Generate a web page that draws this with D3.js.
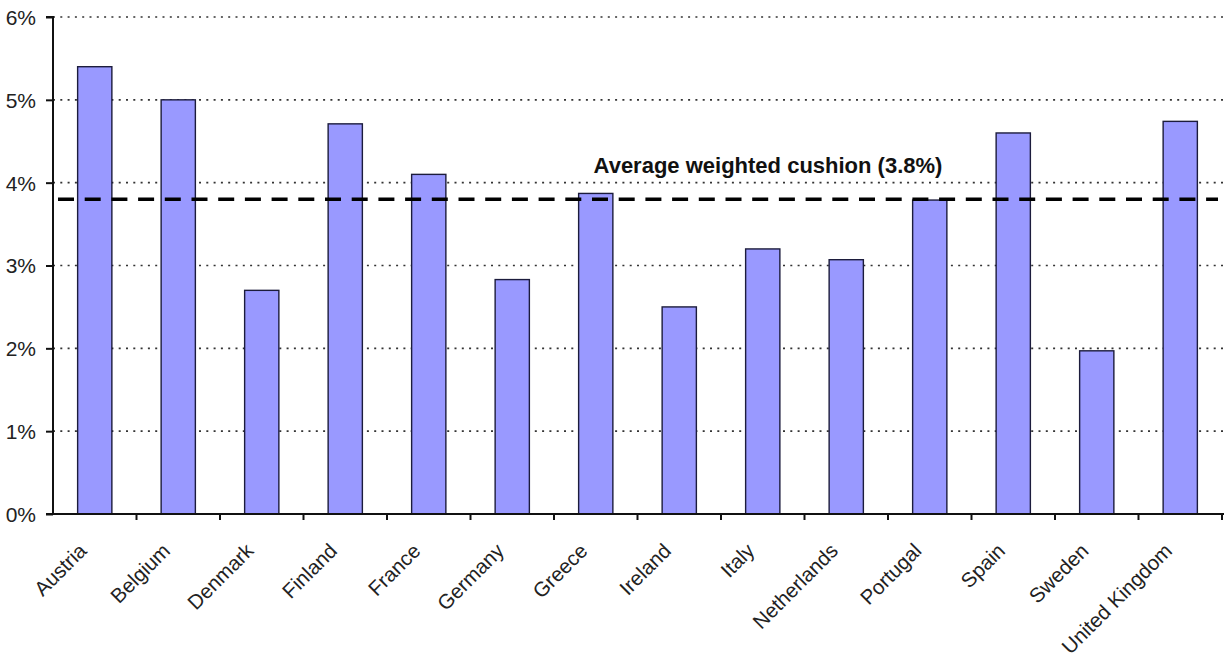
<!DOCTYPE html>
<html><head><meta charset="utf-8">
<script src="https://cdn.jsdelivr.net/npm/d3@7"></script>
<style>body{margin:0;background:#fff;} text{font-family:"Liberation Sans",Arial,sans-serif;}</style>
</head><body><svg id="c" width="1226" height="662"></svg>
<script>
const countries = ["Austria","Belgium","Denmark","Finland","France","Germany","Greece","Ireland","Italy","Netherlands","Portugal","Spain","Sweden","United Kingdom"];
const cushion = [5.4,5.0,2.7,4.71,4.1,2.83,3.87,2.5,3.2,3.07,3.79,4.6,1.97,4.74];
const average = 3.8;
const yTicks = [0,1,2,3,4,5,6];
const annotation = "Average weighted cushion (3.8%)";

const svg = d3.select("#c");
const mL = 53, mR = 1222, mT = 17, mB = 514;
const x = d3.scaleBand().domain(countries).range([mL, mR]).paddingInner(0.59).paddingOuter(0.295);
const xb = d3.scaleBand().domain(countries).range([mL, mR]);
const y = d3.scaleLinear().domain([0,6]).range([mB, mT]);

// gridlines
svg.append("g").selectAll("line").data(yTicks.filter(d=>d>0)).join("line")
  .attr("x1", mL).attr("x2", mR+4).attr("y1", d=>y(d)).attr("y2", d=>y(d))
  .attr("stroke","#333").attr("stroke-width",1.6).attr("stroke-dasharray","2,5.3");

// bars
svg.append("g").selectAll("rect").data(countries).join("rect")
  .attr("x", d=>x(d)).attr("width", x.bandwidth())
  .attr("y", (d,i)=>y(cushion[i])).attr("height", (d,i)=>y(0)-y(cushion[i]))
  .attr("fill","#9999ff").attr("stroke","#1c1c3c").attr("stroke-width",1.4);

// average line
svg.append("line").attr("x1", mL+5).attr("x2", mR-4).attr("y1", y(average)).attr("y2", y(average))
  .attr("stroke","#000").attr("stroke-width",3.6).attr("stroke-dasharray","16,10.7");

svg.append("text").attr("x", 768).attr("y", 173).attr("text-anchor","middle")
  .attr("font-size","22px").attr("font-weight","bold").attr("fill","#111").text(annotation);

// y axis
const ya = svg.append("g").attr("transform",`translate(${mL},0)`)
  .call(d3.axisLeft(y).tickValues(yTicks).tickFormat(d=>d+"%").tickSize(7).tickPadding(10));
ya.select(".domain").attr("stroke","#111").attr("stroke-width",2).attr("d",`M-7,${mT}H0V${mB}H-7`);
ya.selectAll(".tick line").attr("stroke","#111").attr("stroke-width",2);
ya.selectAll(".tick text").attr("font-size","21px").attr("fill","#222").attr("font-family","Liberation Sans, Arial, sans-serif").attr("dy","0.35em");

// x axis
const xa = svg.append("g").attr("transform",`translate(0,${mB})`);
xa.append("line").attr("x1", mL).attr("x2", mR+2).attr("y1",0).attr("y2",0).attr("stroke","#111").attr("stroke-width",2);
xa.selectAll("line.tk").data(countries).join("line").attr("class","tk")
  .attr("x1",d=>xb(d)+xb.bandwidth()).attr("x2",d=>xb(d)+xb.bandwidth())
  .attr("y1",0).attr("y2",6).attr("stroke","#111").attr("stroke-width",2);
xa.selectAll("text").data(countries).join("text")
  .attr("transform", d=>`translate(${xb(d)+xb.bandwidth()/2-12},33) rotate(-45)`)
  .attr("text-anchor","end").attr("dy","0.35em").attr("font-size","20.5px").attr("fill","#222").text(d=>d);
</script></body></html>
